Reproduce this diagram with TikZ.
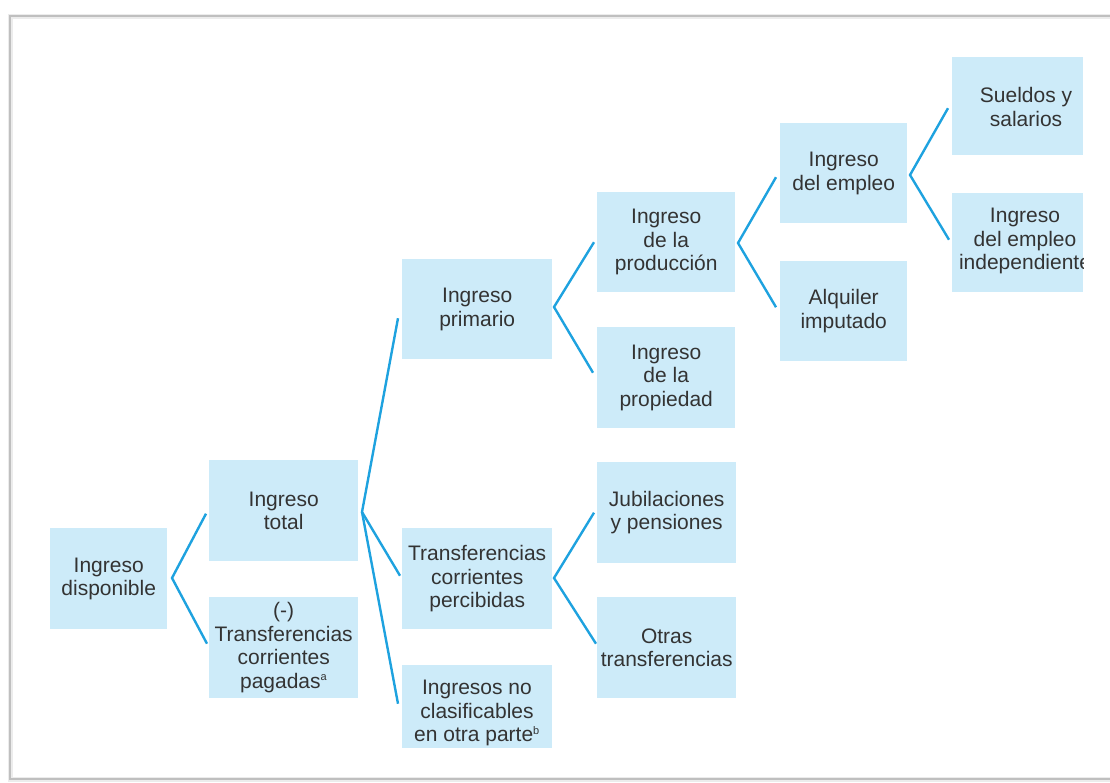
\documentclass[tikz,border=0pt]{standalone}
\usepackage{fontspec}
\setmainfont{Liberation Sans}
\definecolor{boxblue}{HTML}{CDEBF9}
\definecolor{lineblue}{HTML}{1EA2DF}
\definecolor{txtgray}{HTML}{333333}
\begin{document}
\begin{tikzpicture}[x=1pt,y=-1pt,
  box/.style={fill=boxblue,draw=none,inner sep=0pt,anchor=north west,
    font=\fontsize{21}{23.5}\selectfont,text=txtgray,align=center},
  lbl/.style={inner sep=0pt,font=\fontsize{21}{23.5}\selectfont,text=txtgray,align=center},
  conn/.style={draw=lineblue,line width=2.4pt,line join=miter}]
\useasboundingbox (0,0) rectangle (1110,782);
% page frame with soft shadow
\draw[gray!15,line width=5pt] (1112,16) -- (10,16) -- (10,779) -- (1112,779);
\draw[gray!50,line width=1.4pt] (1112,16) -- (10,16) -- (10,779) -- (1112,779);
% boxes
\node[box,minimum width=117pt,minimum height=101pt] (disp) at (50,528) {Ingreso\\disponible};
\node[box,minimum width=149pt,minimum height=101pt] (tot) at (209,460) {Ingreso\\total};
\node[box,minimum width=149pt,minimum height=101pt] (pag) at (209,597) {(-)\\Transferencias\\corrientes\\pagadas\textsuperscript{\fontsize{11}{11}\selectfont a}};
\node[box,minimum width=150pt,minimum height=100pt] (prim) at (402,259) {Ingreso\\primario};
\node[box,minimum width=150pt,minimum height=101pt] (perc) at (402,528) {Transferencias\\corrientes\\percibidas};
\node[box,minimum width=150pt,minimum height=83pt] (noclas) at (402,665) {};
\node[lbl] (noclasT) at (477,713) {Ingresos no\\clasificables\\en otra parte\textsuperscript{\fontsize{11}{11}\selectfont b}};
\node[box,minimum width=139pt,minimum height=101pt] (jub) at (597,462) {Jubilaciones\\y pensiones};
\node[box,minimum width=139pt,minimum height=101pt] (otras) at (597,597) {Otras\\transferencias};
\node[box,minimum width=138pt,minimum height=100pt] (prod) at (597,192) {Ingreso\\de la\\producción};
\node[box,minimum width=138pt,minimum height=101pt] (prop) at (597,327) {Ingreso\\de la\\propiedad};
\node[box,minimum width=127pt,minimum height=100pt] (empl) at (780,123) {Ingreso\\del empleo};
\node[box,minimum width=127pt,minimum height=100pt] (alq) at (780,261) {Alquiler\\imputado};
\begin{scope}
\clip (952,57) rectangle (1083,292);
\node[box,minimum width=131pt,minimum height=98pt] (suel) at (952,57) {};
\node[lbl] (suelT) at (1026,107) {Sueldos y\\salarios};
\node[box,minimum width=131pt,minimum height=99pt] (indep) at (952,193) {};
\node[lbl] (indepT) at (1025,241) {Ingreso\\del empleo\\independiente};
\end{scope}
% connector vertices
\coordinate (v1) at (172,578);
\coordinate (v2) at (362,512);
\coordinate (v3) at (554,307);
\coordinate (v4) at (554,578);
\coordinate (v5) at (738,243);
\coordinate (v6) at (910,175);
% connectors
\draw[conn] ([shift={(-3,3)}]tot.west) -- (v1) -- ([shift={(-2,-4)}]pag.west);
\draw[conn] ([shift={(-4,9)}]prim.west) -- (v2) -- ([shift={(-2,-3)}]perc.west);
\draw[conn] (v2) -- ([shift={(-4,-3)}]noclas.west);
\draw[conn] ([shift={(-3,0)}]prod.west) -- (v3) -- ([shift={(-4,-5)}]prop.west);
\draw[conn] ([shift={(-3,0)}]jub.west) -- (v4) -- ([shift={(-1,-4)}]otras.west);
\draw[conn] ([shift={(-4,4)}]empl.west) -- (v5) -- ([shift={(-4,-4)}]alq.west);
\draw[conn] ([shift={(-4,2)}]suel.west) -- (v6) -- ([shift={(-3,-3)}]indep.west);
\end{tikzpicture}
\end{document}
